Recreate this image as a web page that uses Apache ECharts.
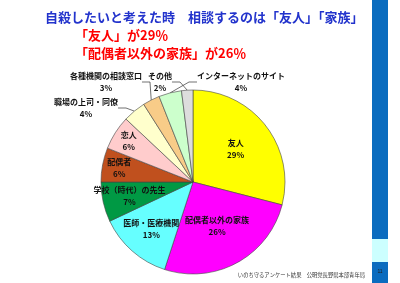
<!DOCTYPE html>
<html>
<head>
<meta charset="utf-8">
<script src="https://cdn.jsdelivr.net/npm/echarts@6/dist/echarts.min.js"></script>
<style>
html, body { margin: 0; padding: 0; background: #fff; }
#chart { width: 400px; height: 283px; }
</style>
</head>
<body>
<div id="chart"></div>
<script>
var categories = ['友人', '配偶者以外の家族', '医師・医療機関', '学校（時代）の先生', '配偶者', '恋人',
	'職場の上司・同僚', '各種機関の相談窓口', 'インターネットのサイト', 'その他'];
var shares = [29, 26, 13, 7, 6, 6, 4, 3, 4, 2];
var sliceColors = ['#ffff00', '#ff00ff', '#66ffff', '#009944', '#c0501e', '#ffcccc',
	'#ffffcc', '#f8cc88', '#ccffcc', '#dddddd'];

// distance of the inside labels from the centre, px
var insideDist = [54, 50, 63, 65, 75, 76];
// where the outside labels sit
var outsideSpots = {
	6: [86, 108],
	7: [106, 82],
	8: [241, 82],
	9: [160, 82]
};

var cx = 193, cy = 182;
var font = '"Noto Sans CJK JP", sans-serif';

var total = shares.reduce(function (a, b) { return a + b; }, 0);
var midAngle = [];
var acc = 0;
shares.forEach(function (v) {
	midAngle.push((acc + v / 2) / total * Math.PI * 2);
	acc += v;
});

var dom = document.getElementById('chart');
var myChart = echarts.init(dom);

var pieData = categories.map(function (name, i) {
	var inside = i < 6;
	return {
		name: name,
		value: shares[i],
		itemStyle: { color: sliceColors[i] },
		label: { position: inside ? 'inside' : 'outside' },
		labelLine: { show: !inside }
	};
});

var option = {
	animation: false,
	backgroundColor: '#fff',
	title: [
		{ text: '自殺したいと考えた時　相談するのは「友人」「家族」', left: 40, top: 6,
			textStyle: { color: '#2233cc', fontSize: 13, fontWeight: 'bold', fontFamily: font } },
		{ text: '「友人」が29％', left: 70, top: 24,
			textStyle: { color: '#ff0000', fontSize: 13, fontWeight: 'bold', fontFamily: font } },
		{ text: '「配偶者以外の家族」が26％', left: 70, top: 42,
			textStyle: { color: '#ff0000', fontSize: 13, fontWeight: 'bold', fontFamily: font } }
	],
	graphic: [
		{ type: 'rect', shape: { x: 372, y: 0, width: 16, height: 239 }, style: { fill: '#0a6cbf' } },
		{ type: 'rect', shape: { x: 372, y: 239, width: 16, height: 23 }, style: { fill: '#ccffff' } },
		{ type: 'rect', shape: { x: 372, y: 262, width: 16, height: 21 }, style: { fill: '#0a6cbf' } },
		{ type: 'text', x: 380, y: 272, style: { text: '11', fill: '#222', fontSize: 5, align: 'center', verticalAlign: 'middle' } },
		{ type: 'text', x: 365, y: 275, style: { text: 'いのち守るアンケート結果　公明党長野県本部青年局', fill: '#333',
			fontSize: 5.3, fontFamily: font, align: 'right', verticalAlign: 'middle' } }
	],
	series: [{
		type: 'pie',
		center: [cx, cy],
		radius: [0, 92],
		startAngle: 90,
		clockwise: true,
		avoidLabelOverlap: false,
		data: pieData,
		itemStyle: { borderColor: '#444', borderWidth: 0.6 },
		label: {
			formatter: '{b}\n{c}%',
			color: '#111',
			fontSize: 8,
			fontWeight: 'bold',
			lineHeight: 12,
			fontFamily: font,
			align: 'center'
		},
		labelLine: {
			length: 8,
			length2: 8,
			lineStyle: { color: '#333', width: 0.7 }
		},
		labelLayout: function (params) {
			var i = params.dataIndex;
			if (i < 6) {
				var a = midAngle[i];
				return {
					x: cx + Math.sin(a) * insideDist[i],
					y: cy - Math.cos(a) * insideDist[i],
					align: 'center',
					verticalAlign: 'middle'
				};
			}
			var p = outsideSpots[i];
			return { x: p[0], y: p[1], align: 'center', verticalAlign: 'middle' };
		}
	}]
};

myChart.setOption(option);
window.onresize = function () {
	myChart.resize();
};
</script>
</body>
</html>
